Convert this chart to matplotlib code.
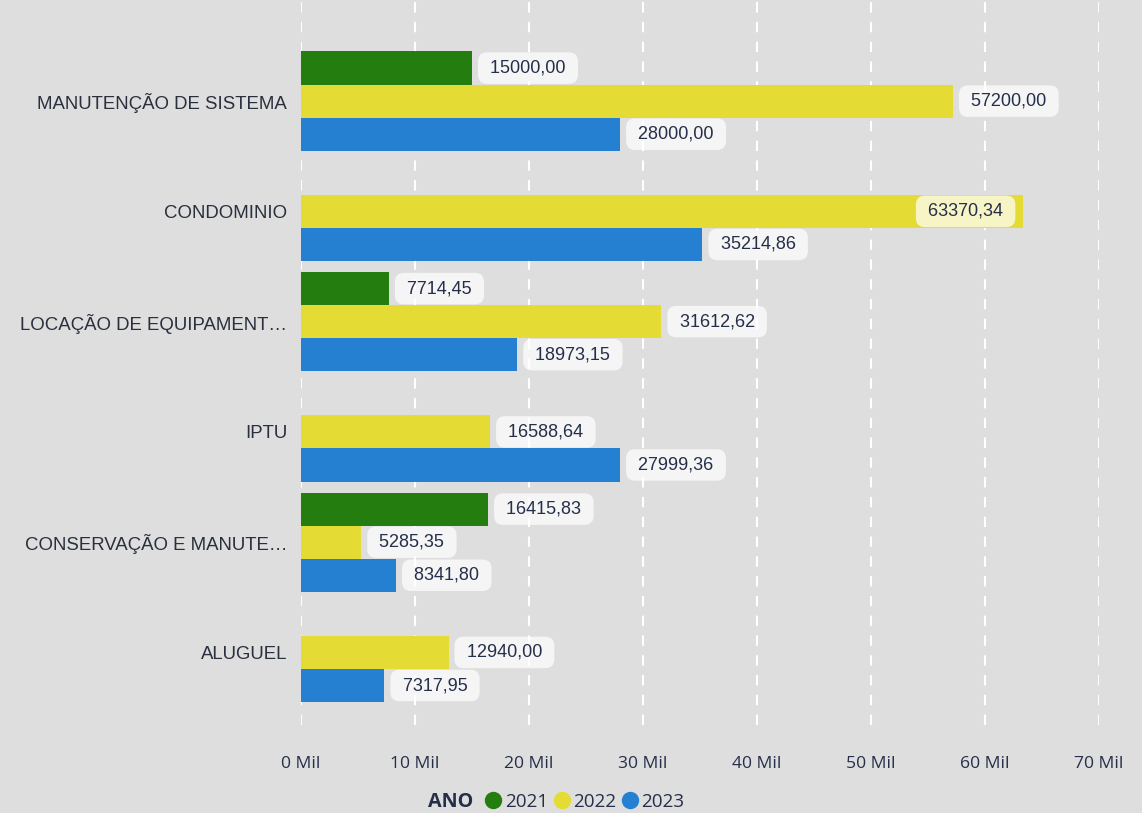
import numpy as np
import matplotlib
matplotlib.use("Agg")
import matplotlib.pyplot as plt

categories = ["MANUTENÇÃO DE SISTEMA", "CONDOMINIO", "LOCAÇÃO DE EQUIPAMENT…",
              "IPTU", "CONSERVAÇÃO E MANUTE…", "ALUGUEL"]
years = ["2021", "2022", "2023"]
v2021 = [15000.00, np.nan, 7714.45, np.nan, 16415.83, np.nan]
v2022 = [57200.00, 63370.34, 31612.62, 16588.64, 5285.35, 12940.00]
v2023 = [28000.00, 35214.86, 18973.15, 27999.36, 8341.80, 7317.95]
xticks = [0, 10000, 20000, 30000, 40000, 50000, 60000, 70000]
xticklabels = ["0 Mil", "10 Mil", "20 Mil", "30 Mil", "40 Mil", "50 Mil", "60 Mil", "70 Mil"]

colors = ["#237E0F", "#E5DB35", "#2680D2"]
bg = "#DEDEDE"
txt = "#252F4A"
cat_txt = "#2A2F3E"

plt.rcParams["font.family"] = ["Liberation Sans", "DejaVu Sans"]

fig = plt.figure(figsize=(11.42, 8.13), dpi=100, facecolor=bg)
ax = fig.add_axes([0.2636, 0.108, 0.6987, 0.892])
ax.set_facecolor(bg)

h = 0.3
y = np.arange(len(categories))
series = [v2021, v2022, v2023]
for i, vals in enumerate(series):
    pos = y + (i - 1) * h
    ax.barh(pos, vals, height=h, color=colors[i], label=years[i])
    for p, v in zip(pos, vals):
        if np.isnan(v):
            continue
        label = " " + f"{v:.2f}".replace(".", ",") + " "
        box = dict(boxstyle="round,pad=0.4,rounding_size=0.5", fc="white", ec="none", alpha=0.72)
        if v > 62000:
            # no room on the right: label sits inside the bar end
            ax.annotate(label, (v, p), xytext=(-11, 0), textcoords="offset points",
                        ha="right", va="center", fontsize=13, color=txt, bbox=box)
        else:
            ax.annotate(label, (v, p), xytext=(9.5, 0), textcoords="offset points",
                        ha="left", va="center", fontsize=13, color=txt, bbox=box)

ax.set_xlim(0, 70000)
ax.set_ylim(5.66, -0.917)
ax.set_yticks(y)
ax.set_yticklabels(categories, fontsize=13.4, color=cat_txt)
ax.set_xticks(xticks)
ax.set_xticklabels(xticklabels, fontsize=12.6, color=txt, family=["Open Sans", "DejaVu Sans"])
ax.tick_params(axis="x", length=0, pad=22)
ax.tick_params(axis="y", length=0, pad=10)
for s in ax.spines.values():
    s.set_visible(False)
ax.grid(axis="x", color="white", linestyle=(0, (5, 4.5)), linewidth=1.5)
ax.set_axisbelow(True)

# legend: bold title inline, then round markers
ly = 1 - 802 / 813
fig.text(428 / 1142, ly, "ANO", fontsize=14.2, fontweight="bold", color=txt,
         ha="left", va="center", family=["Open Sans", "DejaVu Sans"])
handles = [plt.Line2D([], [], marker="o", ls="none", color=c, markersize=11.5) for c in colors]
leg = fig.legend(handles, years, loc="center left", bbox_to_anchor=(484 / 1142, ly), ncol=3,
                 frameon=False, handletextpad=0.12, columnspacing=0.2, handlelength=1.0,
                 borderpad=0, borderaxespad=0,
                 prop={"family": ["Open Sans", "DejaVu Sans"], "size": 13.6})
for t in leg.get_texts():
    t.set_color(txt)

fig.savefig("out.png", dpi=100, facecolor=bg)
